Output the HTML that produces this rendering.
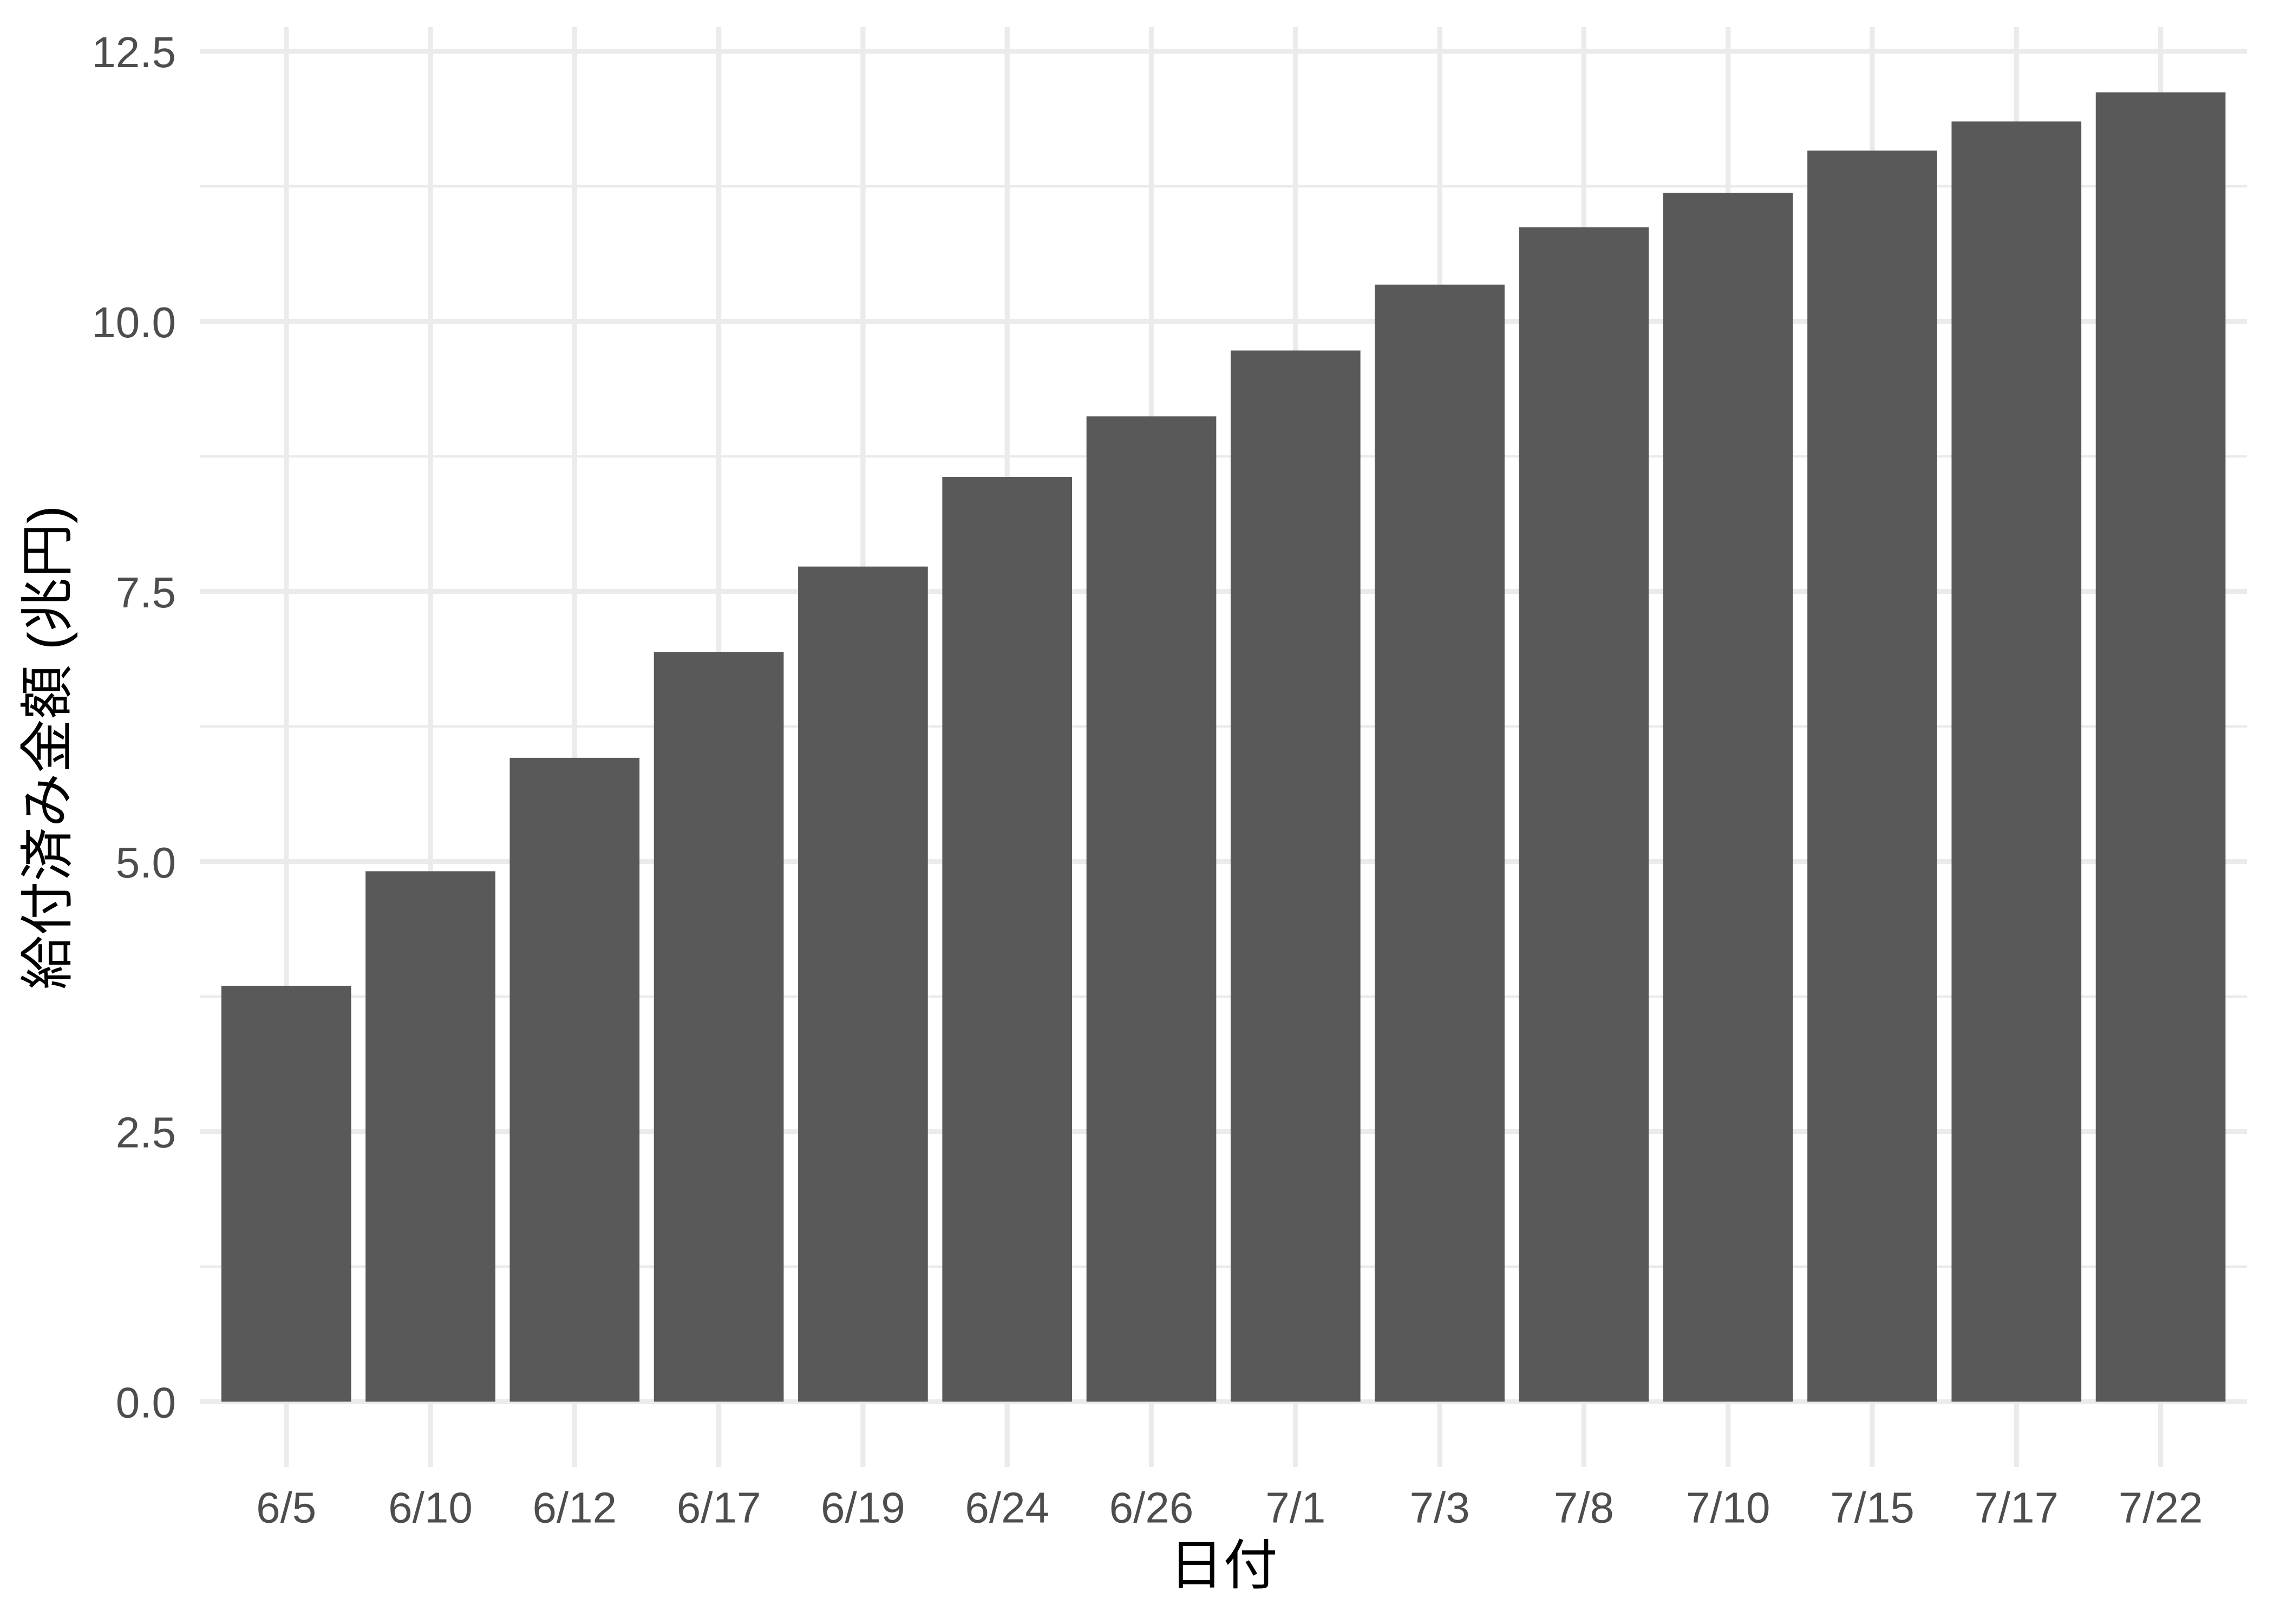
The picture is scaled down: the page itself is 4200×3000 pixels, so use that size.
<!DOCTYPE html>
<html lang="ja">
<head>
<meta charset="utf-8">
<title>給付済み金額</title>
<style>
  html, body { margin: 0; padding: 0; background: #ffffff; }
  #chart { display: block; width: 4200px; height: 3000px; }
  .tick { font-family: "Liberation Sans", "Noto Sans CJK JP", sans-serif; font-size: 80px; fill: #4d4d4d; }
  .title { font-family: "Liberation Sans", "Noto Sans CJK JP", sans-serif; font-size: 100px; fill: #000000; }
</style>
</head>
<body>
<svg id="chart" xmlns="http://www.w3.org/2000/svg" width="4200" height="3000" viewBox="0 0 4200 3000">
  <rect x="0" y="0" width="4200" height="3000" fill="#ffffff"></rect>
  <g id="grid-minor"></g>
  <g id="grid-major"></g>
  <g id="bars"></g>
  <g id="y-ticks"></g>
  <g id="x-ticks"></g>
  <text class="title" x="2259.5" y="2926" text-anchor="middle">日付</text>
  <text class="title" transform="translate(122 1381) rotate(-90)" text-anchor="middle">給付済み金額 (兆円)</text>
</svg>
<script>
const categories = ["6/5", "6/10", "6/12", "6/17", "6/19", "6/24", "6/26", "7/1", "7/3", "7/8", "7/10", "7/15", "7/17", "7/22"];
const seriesValues = [3.85, 4.91, 5.96, 6.94, 7.73, 8.56, 9.12, 9.73, 10.34, 10.87, 11.19, 11.58, 11.85, 12.12];
const yTickValues = [0, 2.5, 5, 7.5, 10, 12.5];
const yTickLabels = ["0.0", "2.5", "5.0", "7.5", "10.0", "12.5"];
const yMinorValues = [1.25, 3.75, 6.25, 8.75, 11.25];

const SVG_NS = "http://www.w3.org/2000/svg";
const panelLeft = 369;
const panelRight = 4150;
const panelTop = 50;
const panelBottom = 2710;
const yZero = 2589.3;
const yUnit = 199.57;
const xFirst = 528.7;
const xStep = 266.3;
const barFraction = 0.9;

function xScale(index) {
  return xFirst + xStep * index;
}
function yScale(value) {
  return yZero - yUnit * value;
}
function make(tag, attrs, parent) {
  const el = document.createElementNS(SVG_NS, tag);
  for (const key in attrs) el.setAttribute(key, attrs[key]);
  parent.appendChild(el);
  return el;
}

const gridMinor = document.getElementById("grid-minor");
const gridMajor = document.getElementById("grid-major");
const barsGroup = document.getElementById("bars");
const yTicksGroup = document.getElementById("y-ticks");
const xTicksGroup = document.getElementById("x-ticks");

yMinorValues.forEach(function (v) {
  const line = make("line", { x1: panelLeft, x2: panelRight, y1: yScale(v), y2: yScale(v), stroke: "#ebebeb", "stroke-width": 4.7 }, gridMinor);
  
  
});

yTickValues.forEach(function (v, i) {
  const line = make("line", { x1: panelLeft, x2: panelRight, y1: yScale(v), y2: yScale(v), stroke: "#ebebeb", "stroke-width": 9.3 }, gridMajor);
  
  
  const label = make("text", { class: "tick", x: 325, y: yScale(v) + 29.3, "text-anchor": "end" }, yTicksGroup);
  label.textContent = yTickLabels[i];
  
  
});

categories.forEach(function (c, i) {
  const line = make("line", { x1: xScale(i), x2: xScale(i), y1: panelTop, y2: panelBottom, stroke: "#ebebeb", "stroke-width": 9.3 }, gridMajor);
  
  
  const label = make("text", { class: "tick", x: xScale(i), y: 2812.7, "text-anchor": "middle" }, xTicksGroup);
  label.textContent = c;
  
  
});

seriesValues.forEach(function (v, i) {
  const w = xStep * barFraction;
  const bar = make("rect", { x: xScale(i) - w / 2, y: yScale(v), width: w, height: yScale(0) - yScale(v), fill: "#595959" }, barsGroup);
  
  
});
</script>
</body>
</html>
